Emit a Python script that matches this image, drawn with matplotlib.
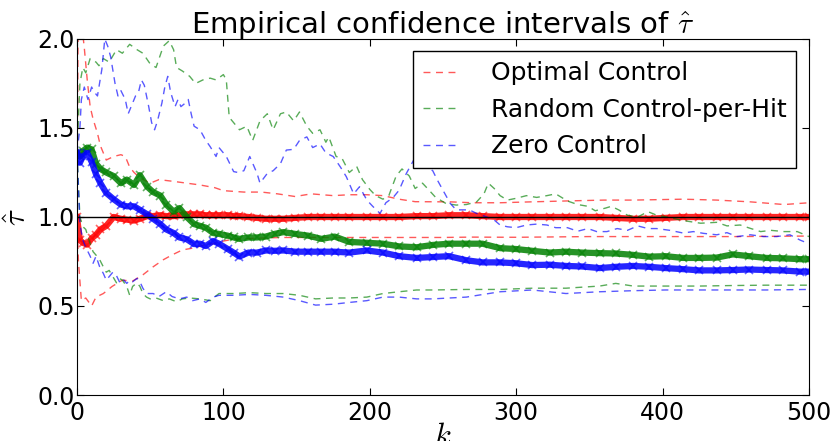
import matplotlib
matplotlib.use('Agg')
import matplotlib.pyplot as plt

# grid of k values where the mean curves were read
k_mean = [0, 2, 4, 7, 10, 13, 16, 20, 25, 30, 34, 39, 43, 48, 52, 57, 61, 66,
          70, 75, 80, 84, 88, 93, 97, 103, 107, 111, 117, 123, 129, 135, 141,
          149, 158, 167, 176, 186, 198, 209, 220, 232, 243, 254, 266, 277, 289,
          300, 311, 323, 334, 345, 357, 368, 380, 391, 402, 414, 425, 437, 448,
          459, 471, 482, 494, 500]

opt_mean = [1.0, 0.87, 0.855, 0.845, 0.88, 0.9, 0.93, 0.95, 1.0, 0.99, 0.985,
            0.98, 0.99, 1.005, 1.005, 1.01, 1.005, 1.005, 1.01, 1.015, 1.015,
            1.015, 1.01, 1.01, 1.01, 1.01, 1.005, 1.005, 1.0, 0.995, 0.99, 0.99,
            0.99, 0.995, 1.0, 1.0, 1.0, 1.0, 1.0, 1.0, 1.0, 1.005, 1.005, 1.01,
            1.01, 1.005, 1.0, 1.0, 1.0, 1.0, 1.0, 1.0, 1.0, 0.995, 0.99, 0.99,
            0.995, 1.0, 1.0, 1.0, 1.0, 1.0, 1.0, 1.0, 1.0, 1.0]

rand_mean = [1.36, 1.34, 1.37, 1.39, 1.38, 1.30, 1.27, 1.25, 1.23, 1.19, 1.21,
             1.18, 1.235, 1.17, 1.14, 1.12, 1.07, 1.03, 1.05, 1.0, 0.96, 0.95,
             0.94, 0.91, 0.905, 0.895, 0.885, 0.877, 0.885, 0.885, 0.89, 0.905,
             0.915, 0.905, 0.895, 0.877, 0.89, 0.86, 0.855, 0.85, 0.835, 0.83,
             0.843, 0.85, 0.85, 0.85, 0.825, 0.82, 0.81, 0.80, 0.805, 0.80,
             0.797, 0.795, 0.787, 0.777, 0.78, 0.77, 0.77, 0.772, 0.79, 0.78,
             0.77, 0.768, 0.763, 0.763]

zero_mean = [1.36, 1.305, 1.34, 1.36, 1.31, 1.24, 1.19, 1.135, 1.10, 1.07,
             1.06, 1.06, 1.04, 1.015, 0.99, 0.96, 0.93, 0.91, 0.885, 0.875,
             0.848, 0.85, 0.837, 0.865, 0.85, 0.82, 0.80, 0.778, 0.80, 0.80,
             0.812, 0.81, 0.812, 0.805, 0.805, 0.805, 0.805, 0.80, 0.812, 0.80,
             0.78, 0.77, 0.775, 0.78, 0.757, 0.745, 0.745, 0.74, 0.73, 0.732,
             0.725, 0.722, 0.713, 0.72, 0.725, 0.72, 0.713, 0.707, 0.70, 0.70,
             0.702, 0.705, 0.702, 0.70, 0.693, 0.693]

# confidence bounds, each with its own k values
opt_hi_k = [0, 1, 3, 5, 7, 9, 11, 14, 16, 20, 25, 30, 33, 36, 39, 43, 50, 56,
            66, 75, 84, 94, 100, 114, 126, 137, 149, 160, 175, 186, 198, 209,
            220, 231, 255, 270, 289, 310, 334, 360, 380, 414, 437, 460, 483, 500]
opt_hi = [1.0, 2.4, 2.1, 1.95, 1.77, 1.62, 1.55, 1.47, 1.40, 1.32, 1.34, 1.35,
          1.34, 1.28, 1.25, 1.22, 1.19, 1.21, 1.20, 1.19, 1.18, 1.165, 1.148,
          1.14, 1.14, 1.13, 1.115, 1.13, 1.12, 1.125, 1.125, 1.12, 1.10, 1.086,
          1.085, 1.08, 1.08, 1.085, 1.09, 1.095, 1.095, 1.10, 1.095, 1.085,
          1.07, 1.08]

opt_lo_k = [0, 1, 3, 6, 10, 13, 18, 24, 31, 38, 45, 52, 59, 65, 72, 79, 86, 93,
            100, 107, 120, 140, 167, 200, 249, 270, 300, 350, 400, 450, 500]
opt_lo = [1.0, 0.75, 0.53, 0.545, 0.50, 0.55, 0.57, 0.61, 0.645, 0.64, 0.675,
          0.72, 0.76, 0.787, 0.815, 0.825, 0.84, 0.85, 0.865, 0.875, 0.88,
          0.885, 0.885, 0.885, 0.885, 0.887, 0.886, 0.89, 0.89, 0.89, 0.893]

rand_hi_k = [0, 2, 4, 6, 9, 13, 15, 18, 22, 27, 31, 36, 41, 45, 50, 54, 59, 63,
             66, 68, 72, 77, 81, 86, 91, 95, 100, 102, 104, 107, 111, 116, 120,
             125, 130, 134, 139, 143, 148, 152, 157, 161, 166, 170, 172, 177,
             181, 186, 191, 195, 200, 204, 209, 213, 218, 222, 227, 231, 236,
             240, 245, 252, 259, 266, 273, 278, 281, 285, 289, 294, 300, 307,
             314, 321, 327, 335, 342, 349, 354, 361, 365, 370, 376, 383, 390,
             396, 403, 414, 426, 437, 444, 453, 460, 467, 474, 483, 492, 500]
rand_hi = [1.36, 1.75, 1.84, 1.81, 1.89, 1.87, 1.85, 1.89, 1.87, 1.94, 1.92,
           1.97, 1.94, 1.92, 1.86, 1.84, 1.96, 1.99, 1.94, 1.84, 1.82, 1.79,
           1.75, 1.77, 1.78, 1.77, 1.80, 1.77, 1.56, 1.53, 1.49, 1.51, 1.43,
           1.54, 1.58, 1.49, 1.58, 1.59, 1.54, 1.59, 1.51, 1.47, 1.49, 1.42,
           1.45, 1.34, 1.33, 1.25, 1.285, 1.21, 1.155, 1.12, 1.10, 1.12, 1.23,
           1.27, 1.23, 1.16, 1.19, 1.155, 1.11, 1.076, 1.067, 1.07, 1.085, 1.13,
           1.19, 1.16, 1.12, 1.095, 1.105, 1.12, 1.11, 1.12, 1.13, 1.09, 1.07,
           1.06, 1.035, 1.05, 1.06, 1.04, 1.01, 1.0, 1.03, 1.01, 1.0, 0.98,
           0.965, 0.97, 0.95, 0.955, 0.936, 0.918, 0.925, 0.918, 0.918, 0.89]

rand_lo_k = [0, 2, 4, 6, 9, 11, 13, 15.5, 18, 20, 22, 24.5, 27, 29, 31, 34, 36,
             38, 41, 43, 45, 47.5, 50, 54, 59, 63, 68, 72, 77, 84, 91, 97, 107,
             118, 129, 141, 152, 163, 175, 186, 198, 209, 220, 232, 243, 266,
             289, 311, 334, 357, 368, 380, 402, 425, 448, 471, 500]
rand_lo = [1.36, 1.0, 0.946, 0.93, 0.85, 0.805, 0.786, 0.76, 0.72, 0.69, 0.70,
           0.665, 0.63, 0.655, 0.645, 0.61, 0.56, 0.61, 0.63, 0.61, 0.57, 0.55,
           0.54, 0.545, 0.53, 0.54, 0.524, 0.54, 0.545, 0.54, 0.53, 0.57, 0.57,
           0.575, 0.57, 0.57, 0.56, 0.54, 0.545, 0.545, 0.55, 0.57, 0.58, 0.59,
           0.59, 0.593, 0.593, 0.60, 0.60, 0.612, 0.627, 0.612, 0.612, 0.612,
           0.615, 0.617, 0.617]

zero_hi_k = [0, 2, 3, 5, 7.5, 10, 12, 14, 17, 19, 21, 23, 26, 28, 30, 33, 35,
             37, 40, 42, 44, 46, 49, 51, 53, 55, 58, 60, 62, 64, 67, 69, 71, 74,
             76, 78, 80, 84, 88, 91, 95, 97, 102, 107, 110, 114, 118, 123, 125,
             130, 134, 139, 143, 148, 152, 157, 161, 166, 170, 175, 180, 184,
             189, 193, 198, 202, 207, 211, 216, 220, 225, 230, 234, 239, 243,
             246, 250, 255, 259, 264, 268, 273, 280, 285, 289, 294, 300, 307,
             314, 321, 327, 335, 342, 349, 355, 362, 369, 376, 383, 390, 396,
             405, 414, 421, 428, 437, 444, 451, 460, 469, 478, 487, 494, 500]
zero_hi = [1.36, 1.50, 1.66, 1.73, 1.66, 1.73, 1.70, 1.68, 1.83, 2.0, 1.96,
           1.90, 1.75, 1.68, 1.71, 1.66, 1.58, 1.62, 1.68, 1.70, 1.77, 1.74,
           1.62, 1.53, 1.49, 1.54, 1.64, 1.73, 1.79, 1.70, 1.62, 1.66, 1.62,
           1.64, 1.66, 1.58, 1.51, 1.49, 1.43, 1.395, 1.34, 1.39, 1.34, 1.255,
           1.25, 1.26, 1.34, 1.245, 1.19, 1.245, 1.26, 1.30, 1.376, 1.38, 1.43,
           1.45, 1.39, 1.41, 1.36, 1.34, 1.28, 1.226, 1.13, 1.17, 1.095, 1.06,
           1.02, 1.08, 1.11, 1.15, 1.245, 1.32, 1.30, 1.28, 1.26, 1.21, 1.15,
           1.076, 1.04, 1.04, 1.04, 1.02, 1.0, 0.983, 0.955, 0.945, 0.94, 0.955,
           0.96, 0.955, 0.94, 0.94, 0.92, 0.935, 0.918, 0.918, 0.935, 0.925,
           0.95, 0.935, 0.935, 0.925, 0.91, 0.918, 0.908, 0.90, 0.912, 0.89,
           0.90, 0.89, 0.89, 0.90, 0.87, 0.85]

zero_lo_k = [0, 2, 4, 6, 9, 11, 13, 15.5, 18, 20, 22, 24.5, 27, 29, 31, 34, 36,
             38, 41, 43, 45, 47.5, 52, 56, 61, 65, 70, 75, 79, 84, 88, 93, 97,
             107, 118, 129, 141, 152, 163, 175, 186, 198, 209, 220, 232, 243,
             266, 289, 311, 334, 357, 380, 402, 425, 448, 471, 500]
zero_lo = [1.36, 0.96, 0.87, 0.83, 0.78, 0.74, 0.78, 0.72, 0.683, 0.645, 0.665,
           0.69, 0.67, 0.636, 0.655, 0.627, 0.645, 0.636, 0.655, 0.636, 0.60,
           0.57, 0.57, 0.553, 0.58, 0.553, 0.54, 0.55, 0.53, 0.54, 0.52, 0.55,
           0.56, 0.56, 0.565, 0.56, 0.55, 0.53, 0.505, 0.51, 0.52, 0.53, 0.55,
           0.55, 0.54, 0.54, 0.55, 0.58, 0.59, 0.57, 0.58, 0.586, 0.59, 0.59,
           0.59, 0.59, 0.593]

labels = ['Optimal Control', 'Random Control-per-Hit', 'Zero Control']
colors = ['r', 'g', 'b']


def main() -> None:
    plt.rcParams['mathtext.fontset'] = 'cm'
    fig = plt.figure(figsize=(8.34, 4.41), dpi=100)
    ax = fig.add_axes([0.0923, 0.1043, 0.8777, 0.8073])

    means = [opt_mean, rand_mean, zero_mean]
    highs = [(opt_hi_k, opt_hi), (rand_hi_k, rand_hi), (zero_hi_k, zero_hi)]
    lows = [(opt_lo_k, opt_lo), (rand_lo_k, rand_lo), (zero_lo_k, zero_lo)]

    for mean, (hk, hv), (lk, lv), c, lab in zip(means, highs, lows, colors, labels):
        ax.plot(hk, hv, '--', color=c, lw=1.0, alpha=0.65, dashes=(5, 4), label=lab)
        ax.plot(lk, lv, '--', color=c, lw=1.0, alpha=0.65, dashes=(5, 4))
        ax.plot(k_mean, mean, '-', color=c, lw=4.5, alpha=0.85)
        ax.plot(k_mean, mean, 'x', color=c, ms=6, mew=1.2, alpha=0.6)

    ax.axhline(1.0, color='k', lw=1.0)

    ax.set_xlim(0, 500)
    ax.set_ylim(0, 2)
    ax.set_xticks(range(0, 501, 100))
    ax.set_yticks([0.0, 0.5, 1.0, 1.5, 2.0])
    ax.tick_params(direction='in', top=True, right=True, length=5,
                   labelsize=17)
    ax.tick_params(axis='x', pad=4)
    ax.tick_params(axis='y', pad=1.5)
    ax.set_title(r'Empirical confidence intervals of $\hat{\tau}$',
                 fontsize=21, pad=4)
    ax.set_xlabel(r'$k$', fontsize=22, labelpad=-2)
    ax.set_ylabel(r'$\hat{\tau}$', fontsize=22, labelpad=4)

    ax.legend(loc='upper right', fontsize=18, handlelength=1.4,
              handletextpad=1.3, borderpad=0.4, labelspacing=0.5,
              fancybox=False, framealpha=1, edgecolor='k',
              borderaxespad=0.5)

    fig.savefig('out.png', dpi=100)


if __name__ == '__main__':
    main()
